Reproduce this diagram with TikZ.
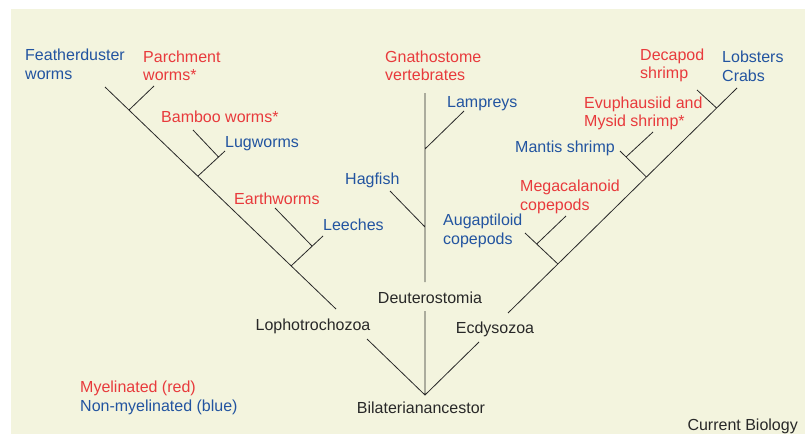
\documentclass[tikz,border=0pt]{standalone}
\usepackage{fontspec}
\setmainfont{Liberation Sans}
\definecolor{panel}{RGB}{243,244,222}
\definecolor{myred}{RGB}{232,58,60}
\definecolor{myblue}{RGB}{34,84,160}
\definecolor{ink}{RGB}{40,40,40}

\begin{document}
\begin{tikzpicture}[x=1pt, y=-1pt, font=\fontsize{16}{18.5}\selectfont,
  branch/.style={draw=ink, line width=0.8pt},
  lbl/.style={inner sep=0pt, anchor=west, align=left},
  mye/.style={lbl, text=myred},
  non/.style={lbl, text=myblue},
  grp/.style={inner sep=0pt, text=ink}]
  \useasboundingbox[fill=white] (0,0) rectangle (805,434);
  \fill[panel] (11,9) rectangle (805,434);

  \coordinate (root) at (425,395);
  % Lophotrochozoa
  \coordinate (lTop) at (105,87);
  \coordinate (lEnd) at (336,309);
  \coordinate (parJ) at (129,110);
  \coordinate (parT) at (154,86);
  \coordinate (lugJ) at (198,176);
  \coordinate (lugT) at (225,151);
  \coordinate (bamJ) at (218.5,157);
  \coordinate (bamT) at (193,130);
  \coordinate (leeJ) at (291,266);
  \coordinate (leeT) at (323,236);
  \coordinate (eaJ) at (312,246);
  \coordinate (eaT) at (275,208);
  \coordinate (lBot) at (367,339);
  % Deuterostomia
  \coordinate (dTop) at (425,93);
  \coordinate (dEnd) at (425,282);
  \coordinate (lamJ) at (425,149);
  \coordinate (lamT) at (464,111);
  \coordinate (hagJ) at (425,227);
  \coordinate (hagT) at (390,191);
  \coordinate (dBot) at (425,311);
  % Ecdysozoa
  \coordinate (eTop) at (737,88);
  \coordinate (eEnd) at (508,313);
  \coordinate (decJ) at (716.6,108);
  \coordinate (decT) at (697,90);
  \coordinate (manJ) at (646.4,177);
  \coordinate (manT) at (620,151);
  \coordinate (evuJ) at (626,157);
  \coordinate (evuT) at (653,132);
  \coordinate (augJ) at (557.9,264);
  \coordinate (augT) at (525,233);
  \coordinate (megJ) at (536.7,244);
  \coordinate (megT) at (566,216);
  \coordinate (eBot) at (479,342);

  \draw[branch] (lTop) -- (lEnd) (parJ) -- (parT) (lugJ) -- (lugT) (bamJ) -- (bamT)
    (leeJ) -- (leeT) (eaJ) -- (eaT);
  \draw[branch] (dTop) -- (dEnd) (lamJ) -- (lamT) (hagJ) -- (hagT);
  \draw[branch] (eTop) -- (eEnd) (decJ) -- (decT) (manJ) -- (manT) (evuJ) -- (evuT)
    (augJ) -- (augT) (megJ) -- (megT);
  \draw[branch] (lBot) -- (root) -- (eBot) (dBot) -- (root);

  \node[non] (feather) at (25,64.5) {Featherduster\\worms};
  \node[mye] (parch) at (143,66) {Parchment\\worms*};
  \node[mye] (bamboo) at (161,117) {Bamboo worms*};
  \node[non] (lug) at (225,144) {Lugworms};
  \node[mye] (earth) at (234,199) {Earthworms};
  \node[non] (leech) at (323,225) {Leeches};
  \node[mye] (gnath) at (385,66) {Gnathostome\\vertebrates};
  \node[non] (lamp) at (447,103.5) {Lampreys};
  \node[non] (hag) at (345,180.5) {Hagfish};
  \node[mye] (deca) at (640,65.5) {Decapod\\shrimp};
  \node[non] (lobst) at (722,66.5) {Lobsters\\Crabs};
  \node[mye] (evu) at (584,113.5) {Evuphausiid and\\Mysid shrimp*};
  \node[non] (mantis) at (515,148.5) {Mantis shrimp};
  \node[mye] (mega) at (520,197) {Megacalanoid\\copepods};
  \node[non] (aug) at (443,231) {Augaptiloid\\copepods};

  \node[grp] (deut) at (430,298) {Deuterostomia};
  \node[grp] (lopho) at (313,326) {Lophotrochozoa};
  \node[grp] (ecdy) at (495,329) {Ecdysozoa};
  \node[grp] (bila) at (421,408) {Bilaterianancestor};

  \node[mye] (keyM) at (80,388) {Myelinated (red)};
  \node[non] (keyN) at (80,407) {Non-myelinated (blue)};
  \node[grp, anchor=east] (journal) at (798,426) {Current Biology};
\end{tikzpicture}
\end{document}
